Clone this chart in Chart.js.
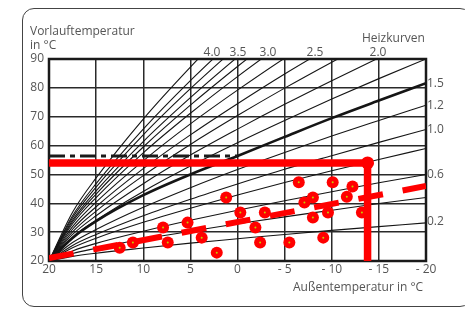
<!DOCTYPE html>
<html lang="de">
<head>
<meta charset="UTF-8">
<script src="https://cdn.jsdelivr.net/npm/chart.js"></script>
<style>
  body { margin: 0; width: 465px; height: 312px; overflow: hidden; background: #fff; font-family: "Open Sans", sans-serif; color: #555; }
  #rahmen { position: absolute; left: 22px; top: 8px; width: 450px; height: 299px; border: 1.5px solid #444; border-radius: 12px; box-sizing: border-box; }
  #c { position: absolute; left: 0; top: 0; }
  .txt { position: absolute; font-size: 12px; line-height: 14px; white-space: nowrap; }
  .mitte { transform: translateX(-50%); }
</style>
</head>
<body>
<div id="rahmen"></div>
<canvas id="c" width="465" height="312"></canvas>

<div class="txt" style="left:30px; top:24px;">Vorlauftemperatur</div>
<div class="txt" style="left:30px; top:38px;">in °C</div>
<div class="txt" style="left:362px; top:31px;">Heizkurven</div>
<div class="txt mitte" style="left:212px; top:45px;">4.0</div>
<div class="txt mitte" style="left:238px; top:45px;">3.5</div>
<div class="txt mitte" style="left:268px; top:45px;">3.0</div>
<div class="txt mitte" style="left:315px; top:45px;">2.5</div>
<div class="txt mitte" style="left:378px; top:45px;">2.0</div>
<div class="txt" style="left:427px; top:76px;">1.5</div>
<div class="txt" style="left:427px; top:98px;">1.2</div>
<div class="txt" style="left:427px; top:122px;">1.0</div>
<div class="txt" style="left:427px; top:167px;">0.6</div>
<div class="txt" style="left:427px; top:214px;">0.2</div>
<div class="txt" style="left:293px; top:280px;">Außentemperatur in °C</div>

<script>
    const outdoorTemps = [20, 17.5, 15, 10, 5, 0, -5, -10, -15, -20];

    // Vorlauftemperaturen der Heizkurven
    const kurve02 = [20, 21.6, 22.7, 24.5, 26.2, 27.7, 29.2, 30.6, 31.9, 33.2];
    const kurve04 = [20, 22.6, 24.4, 27.6, 30.3, 32.9, 35.3, 37.6, 39.9, 42];
    const kurve06 = [20, 23.5, 26.1, 30.3, 34.1, 37.6, 40.9, 44.0, 47.1, 50];
    const kurve08 = [20, 24.6, 27.9, 33.4, 38.3, 42.9, 47.2, 51.3, 55.2, 59];
    const kurve10 = [20, 25.4, 29.2, 35.7, 41.4, 46.7, 51.8, 56.5, 61.1, 65.6];
    const kurve12 = [20, 26.4, 30.9, 38.6, 45.4, 51.7, 57.6, 63.3, 68.7, 74];
    const kurve15 = [20, 28.0, 33.8, 42.8, 50.0, 56.4, 63.0, 69.5, 75.6, 81.6];
    const kurve175 = [20, 28.3, 34.1, 44.1, 52.9, 61.0, 68.7, 76.1, 83.2, 90];
    const kurve20 = [20, 29.2, 35.7, 46.8, 56.7, 65.7, 74.3, 82.5, 90.4, 98];
    const kurve225 = [20, 30.1, 37.3, 49.6, 60.4, 70.4, 79.9, 88.9, 97.6];
    const kurve25 = [20, 31.0, 38.8, 52.0, 63.7, 74.5, 84.8, 94.5];
    const kurve275 = [20, 31.9, 40.4, 54.7, 67.5, 79.2, 90.3, 100.9];
    const kurve30 = [20, 32.9, 42.0, 57.5, 71.2, 83.9, 95.9];
    const kurve325 = [20, 33.6, 43.2, 59.5, 74.0, 87.4, 100.1];
    const kurve35 = [20, 34.2, 44.3, 61.4, 76.6, 90.7, 103.9];
    const kurve375 = [20, 35.0, 45.6, 63.7, 79.7, 94.5];
    const kurve40 = [20, 35.7, 46.8, 65.7, 82.5, 98.0];
    const kurve45 = [20, 36.9, 48.8, 69.2, 87.2, 103.9];

    // Messpunkte
    const dotTemps = [12.5, 11.1, 7.9, 7.4, 5.3, 3.8, 2.2, 1.2, -0.3, -2.9, -1.9, -2.4, -5.5, -6.5, -7.1, -8.0, -8.0, -9.1, -9.6, -10.1, -11.6, -12.2, -13.2];
    const dotValues = [24.6, 26.4, 31.6, 26.4, 33.3, 28.1, 22.9, 42.0, 36.8, 36.8, 31.6, 26.4, 26.4, 47.3, 40.3, 42.0, 35.1, 28.1, 36.8, 47.3, 42.3, 45.8, 36.8];

    // rote Trendlinie
    const trendTemps = [20, -20];
    const trendValues = [21, 46];

    // rote Grenzlinie
    const limitTemps = [20, -13.8, -13.8];
    const limitValues = [54, 54, 20];

    // schwarze Strichpunktlinie
    const dashTemps = [20, 0];
    const dashValues = [56.4, 56.4];

    const xTicks = [20, 15, 10, 5, 0, -5, -10, -15, -20];
    const yTicks = [20, 30, 40, 50, 60, 70, 80, 90];

    function punkte(xs, ys) {
        return ys.map((y, i) => ({ x: xs[i], y: y }));
    }

    const kurven = [kurve02, kurve04, kurve06, kurve08, kurve10, kurve12, kurve15, kurve175, kurve20,
        kurve225, kurve25, kurve275, kurve30, kurve325, kurve35, kurve375, kurve40, kurve45];

    const datasets = [];

    datasets.push({
        data: punkte(dotTemps, dotValues), showLine: false, order: 0,
        pointRadius: 1, pointBackgroundColor: '#c2cf00', pointBorderWidth: 0
    });
    datasets.push({
        data: punkte(dotTemps, dotValues), showLine: false, order: 1,
        pointRadius: 6, pointBackgroundColor: '#ff0000', pointBorderWidth: 0
    });
    datasets.push({
        data: [{ x: limitTemps[1], y: limitValues[1] }], showLine: false, order: 1,
        pointRadius: 6.5, pointBackgroundColor: '#ff0000', pointBorderWidth: 0
    });
    datasets.push({
        data: punkte(limitTemps, limitValues), order: 2, borderColor: '#ff0000', borderWidth: 7.5,
        pointRadius: 0, borderCapStyle: 'butt', borderJoinStyle: 'miter'
    });
    datasets.push({
        data: punkte(trendTemps, trendValues), order: 2, borderColor: '#ff0000', borderWidth: 6,
        borderDash: [25, 20], pointRadius: 0, borderCapStyle: 'butt'
    });
    datasets.push({
        data: punkte(dashTemps, dashValues), order: 3, borderColor: '#1a1a1a', borderWidth: 3,
        borderDash: [16, 5, 5, 5], pointRadius: 0, borderCapStyle: 'butt'
    });
    kurven.forEach(k => {
        datasets.push({
            data: punkte(outdoorTemps, k), order: 4, borderColor: '#151515',
            borderWidth: k === kurve15 ? 2.6 : 1.1, pointRadius: 0,
            cubicInterpolationMode: 'monotone'
        });
    });

    const rahmenPlugin = {
        id: 'rahmen',
        beforeDatasetsDraw(chart) {
            const a = chart.chartArea;
            const ctx = chart.ctx;
            ctx.save();
            ctx.strokeStyle = '#1a1a1a';
            ctx.lineWidth = 2.5;
            ctx.strokeRect(a.left, a.top, a.right - a.left, a.bottom - a.top);
            ctx.restore();
        }
    };

    const tickFont = { family: 'Open Sans', size: 12 };

    new Chart(document.getElementById('c'), {
        type: 'line',
        data: { datasets: datasets },
        plugins: [rahmenPlugin],
        options: {
            responsive: false,
            animation: false,
            layout: { padding: { left: 0, top: 59, right: 39, bottom: 0 } },
            plugins: { legend: { display: false }, tooltip: { enabled: false } },
            scales: {
                x: {
                    type: 'linear', min: -20, max: 20, reverse: true,
                    afterFit(s) { s.height = 51; },
                    afterBuildTicks(s) { s.ticks = xTicks.map(v => ({ value: v })); },
                    ticks: {
                        color: '#555', font: tickFont, padding: 1, maxRotation: 0,
                        callback: v => v < 0 ? '- ' + Math.abs(v) : String(v)
                    },
                    grid: { color: '#2a2a2a', lineWidth: 1.5, drawTicks: false },
                    border: { display: false }
                },
                y: {
                    type: 'linear', min: 20, max: 90,
                    afterFit(s) { s.width = 49; },
                    afterBuildTicks(s) { s.ticks = yTicks.map(v => ({ value: v })); },
                    ticks: { color: '#555', font: tickFont, padding: 5 },
                    grid: { color: '#2a2a2a', lineWidth: 1.5, drawTicks: false },
                    border: { display: false }
                }
            }
        }
    });
</script>
</body>
</html>
